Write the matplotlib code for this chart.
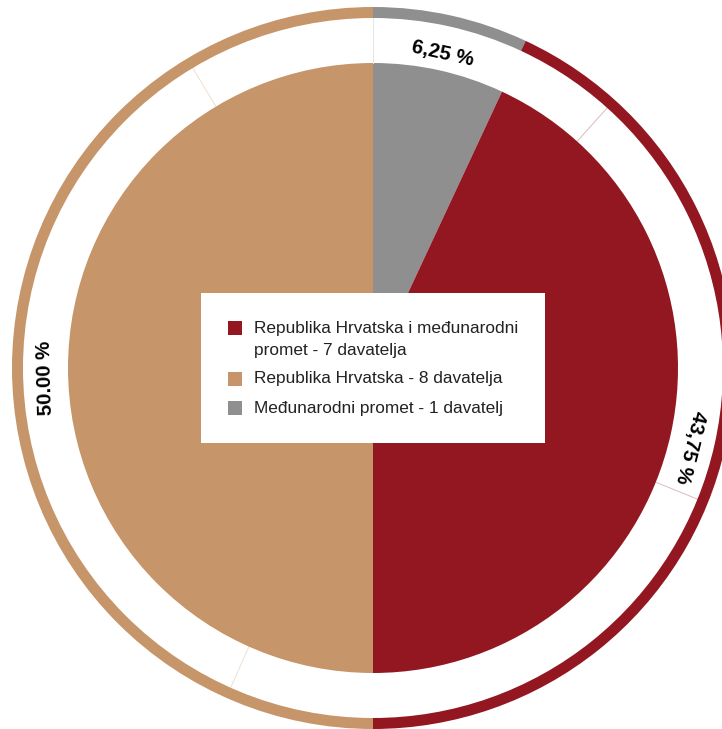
import numpy as np
import matplotlib.pyplot as plt

# slices in drawing order (clockwise from 12 o'clock), sizes as drawn
shares = [6.95, 43.05, 50.0]
colors = ["#8f8f8f", "#921720", "#c6956a"]
pct_labels = ["6,25 %", "43,75 %", "50.00 %"]
names = [
    "Međunarodni promet - 1 davatelj",
    "Republika Hrvatska i međunarodni\npromet - 7 davatelja",
    "Republika Hrvatska - 8 davatelja",
]
legend_order = [1, 2, 0]

# faint spokes in the white band (degrees clockwise from top)
spoke_angles = [0, 42, 112, 204, 329]

W, H = 722, 729
cx, cy = 373, 368
R_PIE = 305
R_RING = 361
RING_W = 11

fig = plt.figure(figsize=(W / 100, H / 100), dpi=100)
ax = fig.add_axes([0, 0, 1, 1])
ax.axis("off")

ax.pie(shares, colors=colors, radius=R_PIE, startangle=90, counterclock=False,
       wedgeprops=dict(linewidth=0))
ax.pie(shares, colors=colors, radius=R_RING, startangle=90, counterclock=False,
       wedgeprops=dict(width=RING_W, linewidth=0))
ax.set_xlim(-cx, W - cx)
ax.set_ylim(-(H - cy), cy)
ax.set_aspect("equal")

# spokes
bounds = np.cumsum([0] + shares) / 100 * 360
for a in spoke_angles:
    idx = np.searchsorted(bounds, a, side="right") - 1
    idx = min(max(idx, 0), len(shares) - 1)
    t = np.deg2rad(90 - a)
    r0, r1 = R_PIE, R_RING - RING_W
    col = "#e4e4e4" if a == 0 else colors[idx]
    ax.plot([r0 * np.cos(t), r1 * np.cos(t)], [r0 * np.sin(t), r1 * np.sin(t)],
            color=col, lw=0.7, alpha=0.3 if a else 1.0)

# percentage labels along the band
label_r = [322, 327, 328]
label_shift = [0.0, 1.5, -1.7]  # degrees, small nudges as in the original
start = 0
for share, txt, r, sh in zip(shares, pct_labels, label_r, label_shift):
    mid = start + share / 100 * 360 / 2 + sh
    start += share / 100 * 360
    t = np.deg2rad(90 - mid)
    rot = -mid
    if rot < -180:
        rot += 360
    ax.text(r * np.cos(t), r * np.sin(t), txt, rotation=rot, rotation_mode="anchor",
            ha="center", va="center", fontsize=14.6, fontweight="bold",
            family="Liberation Sans", color="black")

# legend box (pixel layout, y measured from top)
def px(x, y):
    return x - cx, cy - y

ax.add_patch(plt.Rectangle(px(201, 443), 344, 150, facecolor="white",
                           edgecolor="none", zorder=5))
y = 328
for i in legend_order:
    ax.add_patch(plt.Rectangle(px(228, y + 7), 14, 14, facecolor=colors[i],
                               edgecolor="none", zorder=6))
    lines = names[i].split("\n")
    for k, line in enumerate(lines):
        ax.text(*px(254, y + 22 * k), line, ha="left", va="center",
                fontsize=12.4, family="Liberation Sans", color="#222222", zorder=7)
    y += 22 * (len(lines) - 1) + 29

fig.savefig("out.png", dpi=100)
